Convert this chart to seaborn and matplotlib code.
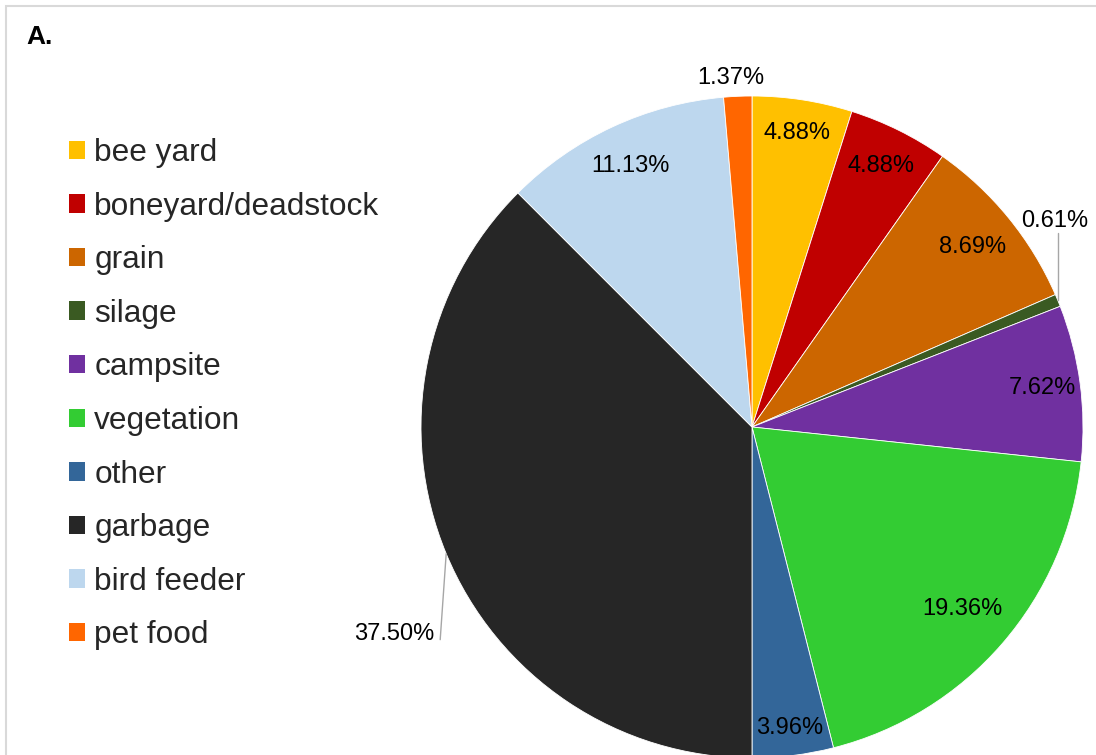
import matplotlib
matplotlib.use("Agg")
import matplotlib.pyplot as plt
from matplotlib.patches import Rectangle, Patch
import numpy as np
import seaborn as sns

# Bear attractant categories and their share of incidents (%)
categories = ["bee yard", "boneyard/deadstock", "grain", "silage", "campsite",
              "vegetation", "other", "garbage", "bird feeder", "pet food"]
shares = [4.88, 4.88, 8.69, 0.61, 7.62, 19.36, 3.96, 37.50, 11.13, 1.37]
palette_hex = ["#FFC000", "#C00000", "#CC6600", "#3A5A22", "#7030A0",
               "#33CC33", "#336699", "#262626", "#BDD7EE", "#FF6600"]

sns.set_theme(style="white")
plt.rcParams["font.family"] = ["Liberation Sans", "DejaVu Sans"]

W, H = 1096, 755
fig = plt.figure(figsize=(W / 100, H / 100), dpi=100)
ax = fig.add_axes([0, 0, 1, 1])

cx, cy, R = 752, H - 427, 331
colors = sns.color_palette(palette_hex)
wedges, _ = ax.pie(shares, colors=colors, startangle=90, counterclock=False,
                   center=(cx, cy), radius=R,
                   wedgeprops=dict(edgecolor="white", linewidth=0.6))
ax.set_xlim(0, W)
ax.set_ylim(0, H)
ax.set_aspect("auto")
ax.axis("off")

# radial placement of in-slice labels (fraction of radius); None = outside label
inside_r = [0.90, 0.88, 0.86, None, 0.885, 0.84, 0.915, None, 0.87, None]
# outside labels: (leader end offset or None, text offset, horizontal alignment)
outside = {
    3: ((0, 67), (-3, 79), "center"),
    7: ((-6, -86), (-12, -80), "right"),
    9: (None, (-7, 18), "center"),
}

for i, (w, val) in enumerate(zip(wedges, shares)):
    mid = np.deg2rad((w.theta1 + w.theta2) / 2)
    label = f"{val:.2f}%"
    if inside_r[i] is not None:
        r = inside_r[i] * R
        ax.text(cx + r * np.cos(mid), cy + r * np.sin(mid), label,
                ha="center", va="center", fontsize=17, color="black")
    else:
        ex, ey = cx + R * np.cos(mid), cy + R * np.sin(mid)
        line_off, txt_off, ha = outside[i]
        if line_off is not None:
            ax.plot([ex, ex + line_off[0]], [ey, ey + line_off[1]],
                    color="#A6A6A6", lw=1)
        ax.text(ex + txt_off[0], ey + txt_off[1], label, ha=ha, va="center",
                fontsize=17, color="black")

# chart area frame
ax.add_patch(Rectangle((6, -10), W, H - 6 + 10, fill=False,
                       edgecolor="#D9D9D9", linewidth=1.5, clip_on=False))

ax.text(26, H - 37, "A.", fontsize=19, fontweight="bold", ha="left",
        va="center", color="black")

handles = [Patch(facecolor=c, edgecolor="none") for c in colors]
fig.legend(handles, categories, loc="upper left",
           bbox_to_anchor=(69 / W, 1 - 138 / H), frameon=False,
           fontsize=22.8, handlelength=0.52, handleheight=0.52,
           handletextpad=0.28, labelspacing=0.745, borderpad=0,
           borderaxespad=0)

fig.savefig("out.png", dpi=100)
